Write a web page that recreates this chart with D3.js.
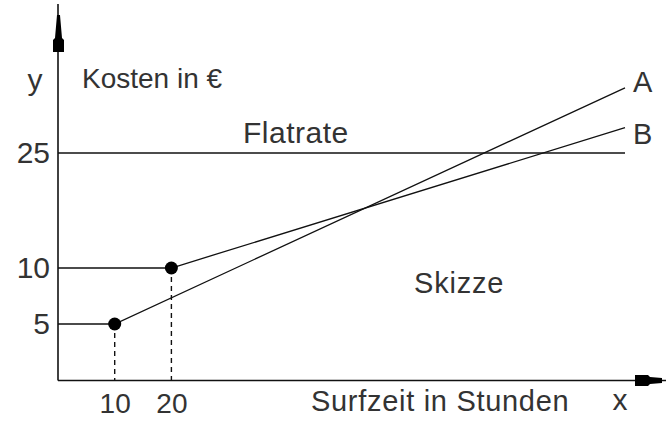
<!DOCTYPE html>
<html>
<head>
<meta charset="utf-8">
<script src="https://cdn.jsdelivr.net/npm/d3@7"></script>
<style>
  html, body { margin: 0; padding: 0; background: #fff; }
  svg { display: block; }
  text { font-family: "Liberation Sans", Arial, sans-serif; fill: #333; }
</style>
</head>
<body>
<svg id="chart" width="666" height="421"></svg>
<script>
// Surfzeit (Stunden) and cost (€) for two tariffs plus a flat rate
const xTicks = [10, 20];
const yTicks = [5, 10, 25];
const flatrate = 25;
const flatrateEnd = 100;
const tarifA = [[0, 5], [10, 5], [100, 33.5]];
const tarifB = [[0, 10], [20, 10], [100, 28.3]];
const knots = [[10, 5], [20, 10]];
const seriesLabels = ["A", "B"];

const svg = d3.select("#chart");
const x0 = 58, y0 = 380.5;

// sketch axes: x linear, y stretched in the lower part
const x = d3.scaleLinear().domain([0, 100]).range([x0, 625]);
const y = d3.scaleLinear().domain([0, 5, 10, 25]).range([y0, 324, 268, 153]);

const line = d3.line().x(d => x(d[0])).y(d => y(d[1]));

// axis lines with arrowheads
svg.append("line").attr("x1", x0).attr("y1", y0).attr("x2", x0).attr("y2", 4)
  .attr("stroke", "#111").attr("stroke-width", 1.6);
svg.append("polygon")
  .attr("points", "57,15 60,15 62,38 64,40 64,52 53,52 53,40 55,38")
  .attr("fill", "#000");
svg.append("line").attr("x1", x0).attr("y1", y0).attr("x2", 666).attr("y2", y0)
  .attr("stroke", "#111").attr("stroke-width", 1.6);
svg.append("polygon")
  .attr("points", "635,375 648,375 650,377 662,378 662,383 650,384 648,386 635,386")
  .attr("fill", "#000");

// tick labels
const yAxis = svg.append("g").attr("transform", `translate(${x0},0)`)
  .call(d3.axisLeft(y).tickValues(yTicks).tickSize(0).tickPadding(8).tickFormat(d3.format("d")));
yAxis.select(".domain").remove();
yAxis.selectAll("text").attr("font-size", 30).attr("font-family", "Liberation Sans, Arial, sans-serif").attr("fill", "#333");

const xAxis = svg.append("g").attr("transform", `translate(0,${y0})`)
  .call(d3.axisBottom(x).tickValues(xTicks).tickSize(0).tickPadding(13).tickFormat(d3.format("d")));
xAxis.select(".domain").remove();
xAxis.selectAll("text").attr("font-size", 28).attr("font-family", "Liberation Sans, Arial, sans-serif").attr("fill", "#333");

// flat rate
svg.append("path")
  .attr("d", line([[0, flatrate], [flatrateEnd, flatrate]]))
  .attr("fill", "none").attr("stroke", "#111").attr("stroke-width", 1.4);

// tariffs A and B
[tarifA, tarifB].forEach(s => {
  svg.append("path").attr("d", line(s))
    .attr("fill", "none").attr("stroke", "#111").attr("stroke-width", 1.3);
});

// dashed drop lines and knot points
knots.forEach(k => {
  svg.append("line")
    .attr("x1", x(k[0])).attr("x2", x(k[0]))
    .attr("y1", y(k[1])).attr("y2", y0)
    .attr("stroke", "#111").attr("stroke-width", 1.4)
    .attr("stroke-dasharray", "5,4");
  svg.append("circle").attr("cx", x(k[0])).attr("cy", y(k[1])).attr("r", 6.5)
    .attr("fill", "#000");
});

// labels
const label = (t, px, py, size, anchor) =>
  svg.append("text").attr("x", px).attr("y", py).attr("font-size", size)
    .attr("text-anchor", anchor || "start").text(t);

label("y", 35, 90, 30, "middle");
label("Kosten in €", 82, 88, 28);
label("Flatrate", 243, 143, 30).attr("letter-spacing", 0.5);
label("Skizze", 414, 293, 29).attr("letter-spacing", 0.8);
label("Surfzeit in Stunden", 311, 411, 29).attr("letter-spacing", 0.7);
label("x", 620, 410, 30, "middle");

const ends = [tarifA[tarifA.length - 1], tarifB[tarifB.length - 1]];
ends.forEach((e, i) => {
  label(seriesLabels[i], x(e[0]) + 8, y(e[1]) + 4 + (i === 1 ? 12 : 0), 29);
});
</script>
</body>
</html>
